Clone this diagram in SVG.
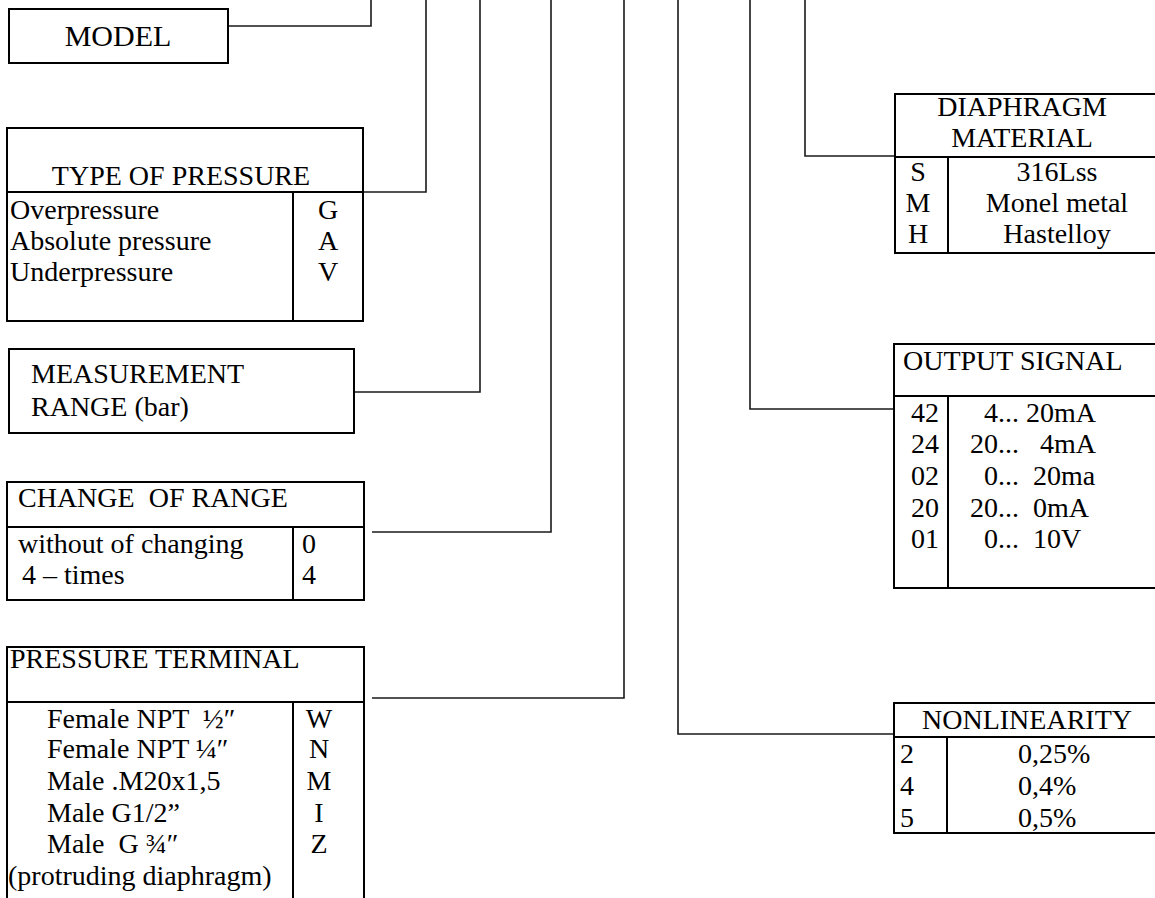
<svg xmlns="http://www.w3.org/2000/svg" width="1155" height="898" viewBox="0 0 1155 898" xml:space="preserve">
<style>
  .box { fill: #ffffff; stroke: #000000; stroke-width: 2; }
  .ln { fill: none; stroke: #000000; stroke-width: 2; }
  .con { fill: none; stroke: #1a1a1a; stroke-width: 1.6; }
  text { font-family: "Liberation Serif", "Times New Roman", serif; font-size: 28px; fill: #000000; white-space: pre; }
  .c { text-anchor: middle; }
</style>
<rect x="0" y="0" width="1155" height="898" fill="#ffffff"/>

<g id="connectors">
  <polyline class="con" points="228,26 371,26 371,0"/>
  <polyline class="con" points="363,192 426,192 426,0"/>
  <polyline class="con" points="354,392 480,392 480,0"/>
  <polyline class="con" points="372,532 551,532 551,0"/>
  <polyline class="con" points="372,698 624,698 624,0"/>
  <polyline class="con" points="678,0 678,734 894,734"/>
  <polyline class="con" points="750,0 750,409 894,409"/>
  <polyline class="con" points="805,0 805,156 895,156"/>
</g>

<g id="model">
  <rect class="box" x="9" y="9" width="219" height="54"/>
  <text class="c" x="118" y="46" style="font-size:30px">MODEL</text>
</g>

<g id="type-of-pressure">
  <rect class="box" x="7" y="128" width="356" height="193"/>
  <line class="ln" x1="7" y1="192" x2="363" y2="192"/>
  <line class="ln" x1="293" y1="192" x2="293" y2="321"/>
  <text class="c" x="181" y="185">TYPE OF PRESSURE</text>
  <text x="10" y="219">Overpressure</text>
  <text x="10" y="250">Absolute pressure</text>
  <text x="10" y="281">Underpressure</text>
  <text class="c" x="328" y="219">G</text>
  <text class="c" x="328" y="250">A</text>
  <text class="c" x="328" y="281">V</text>
</g>

<g id="measurement-range">
  <rect class="box" x="9" y="349" width="345" height="84"/>
  <text x="31" y="383">MEASUREMENT</text>
  <text x="31" y="416">RANGE (bar)</text>
</g>

<g id="change-of-range">
  <rect class="box" x="7" y="482" width="357" height="118"/>
  <line class="ln" x1="7" y1="527" x2="364" y2="527"/>
  <line class="ln" x1="293" y1="527" x2="293" y2="600"/>
  <text x="18" y="507">CHANGE  OF RANGE</text>
  <text x="18" y="553">without of changing</text>
  <text x="15" y="584"> 4 – times</text>
  <text x="302" y="553">0</text>
  <text x="302" y="584">4</text>
</g>

<g id="pressure-terminal">
  <path class="ln" d="M7,900 V647 H364 V900"/>
  <line class="ln" x1="7" y1="702" x2="364" y2="702"/>
  <line class="ln" x1="293" y1="702" x2="293" y2="900"/>
  <text x="10" y="668">PRESSURE TERMINAL</text>
  <text x="47" y="728">Female NPT  ½″</text>
  <text x="47" y="758">Female NPT ¼″</text>
  <text x="47" y="790">Male .M20x1,5</text>
  <text x="47" y="822">Male G1/2”</text>
  <text x="47" y="853">Male  G ¾″</text>
  <text x="8" y="885">(protruding diaphragm)</text>
  <text class="c" x="319" y="728">W</text>
  <text class="c" x="319" y="758">N</text>
  <text class="c" x="319" y="790">M</text>
  <text class="c" x="319" y="822">I</text>
  <text class="c" x="319" y="853">Z</text>
</g>

<g id="diaphragm-material">
  <rect class="box" x="895" y="94" width="270" height="159"/>
  <line class="ln" x1="895" y1="157" x2="1160" y2="157"/>
  <line class="ln" x1="948" y1="157" x2="948" y2="253"/>
  <text class="c" x="1022" y="116">DIAPHRAGM</text>
  <text class="c" x="1022" y="147">MATERIAL</text>
  <text class="c" x="918" y="181">S</text>
  <text class="c" x="918" y="212">M</text>
  <text class="c" x="918" y="243">H</text>
  <text class="c" x="1057" y="181">316Lss</text>
  <text class="c" x="1057" y="212">Monel metal</text>
  <text class="c" x="1057" y="243">Hastelloy</text>
</g>

<g id="output-signal">
  <rect class="box" x="894" y="344" width="271" height="244"/>
  <line class="ln" x1="894" y1="396" x2="1160" y2="396"/>
  <line class="ln" x1="948" y1="396" x2="948" y2="588"/>
  <text x="903" y="370">OUTPUT SIGNAL</text>
  <text x="911" y="422">42</text>
  <text x="911" y="453">24</text>
  <text x="911" y="485">02</text>
  <text x="911" y="517">20</text>
  <text x="911" y="548">01</text>
  <text x="984" y="422">4... 20mA</text>
  <text x="970" y="453">20...   4mA</text>
  <text x="984" y="485">0...  20ma</text>
  <text x="970" y="517">20...  0mA</text>
  <text x="984" y="548">0...  10V</text>
</g>

<g id="nonlinearity">
  <rect class="box" x="894" y="703" width="271" height="130"/>
  <line class="ln" x1="894" y1="737" x2="1160" y2="737"/>
  <line class="ln" x1="947" y1="737" x2="947" y2="833"/>
  <text class="c" x="1027" y="729">NONLINEARITY</text>
  <text x="900" y="763">2</text>
  <text x="900" y="795">4</text>
  <text x="900" y="827">5</text>
  <text x="1018" y="763">0,25%</text>
  <text x="1018" y="795">0,4%</text>
  <text x="1018" y="827">0,5%</text>
</g>
</svg>
